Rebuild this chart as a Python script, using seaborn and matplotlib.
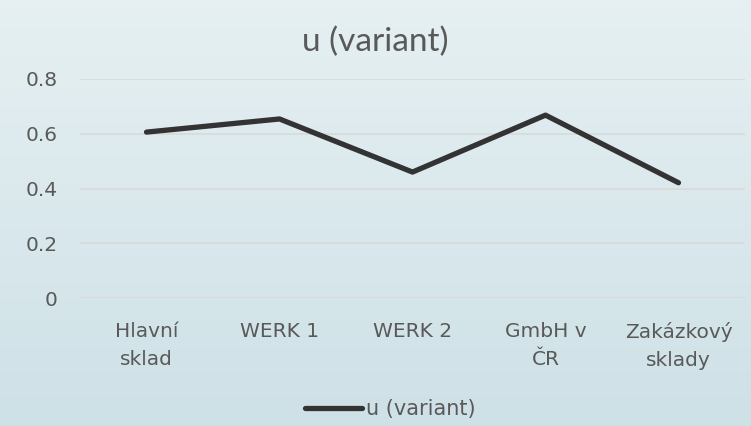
import numpy as np
import pandas as pd
import seaborn as sns
import matplotlib.pyplot as plt

# chart data
categories = ["Hlavní\nsklad", "WERK 1", "WERK 2", "GmbH v\nČR", "Zakázkový\nsklady"]
u_variant = [0.606, 0.654, 0.460, 0.668, 0.421]
y_ticks = [0, 0.2, 0.4, 0.6, 0.8]
y_tick_labels = ["0", "0.2", "0.4", "0.6", "0.8"]

df = pd.DataFrame({"sklad": categories, "u (variant)": u_variant})

sns.set_style("white")
plt.rcParams["font.family"] = ["DejaVu Sans"]
text_col = "#595959"

fig = plt.figure(figsize=(7.51, 4.26), dpi=100)

# soft vertical gradient background
bg = fig.add_axes([0, 0, 1, 1], zorder=-10)
grad = np.linspace(0, 1, 256).reshape(-1, 1)
top = np.array([0xE6, 0xF0, 0xF2]) / 255
bot = np.array([0xCE, 0xE1, 0xE7]) / 255
img = top + (bot - top) * grad[:, :, None]
bg.imshow(img, aspect="auto", extent=[0, 1, 0, 1])
bg.axis("off")

ax = fig.add_axes([80 / 751, (426 - 298) / 426, 665 / 751, 219 / 426])
ax.patch.set_alpha(0)

sns.lineplot(data=df, x="sklad", y="u (variant)", sort=False, color="#333333",
             linewidth=3.8, ax=ax, label="u (variant)", solid_capstyle="round")

ax.set_xlim(-0.5, 4.5)
ax.set_ylim(0, 0.8)
ax.set_yticks(y_ticks)
ax.set_yticklabels(y_tick_labels)
ax.yaxis.grid(True, color="#D9D9D9", linewidth=1.2)
ax.set_axisbelow(True)
for s in ax.spines.values():
    s.set_visible(False)
ax.tick_params(axis="both", length=0, colors=text_col, labelsize=14.5)
ax.tick_params(axis="y", pad=16)
ax.tick_params(axis="x", pad=17)
for t in ax.get_xticklabels():
    t.set_linespacing(1.6)
ax.set_xlabel("")
ax.set_ylabel("")

fig.suptitle("u (variant)", x=0.5, y=1 - 42 / 426, va="center", fontsize=24,
             color=text_col, family=["Lato"])

ax.legend(loc="center", frameon=False, fontsize=15, labelcolor=text_col,
          handlelength=2.7, handletextpad=0.2)
leg = ax.get_legend()
leg.set_bbox_to_anchor((0.52, (426 - 409) / 426), transform=fig.transFigure)

fig.savefig("out.png", dpi=100)
